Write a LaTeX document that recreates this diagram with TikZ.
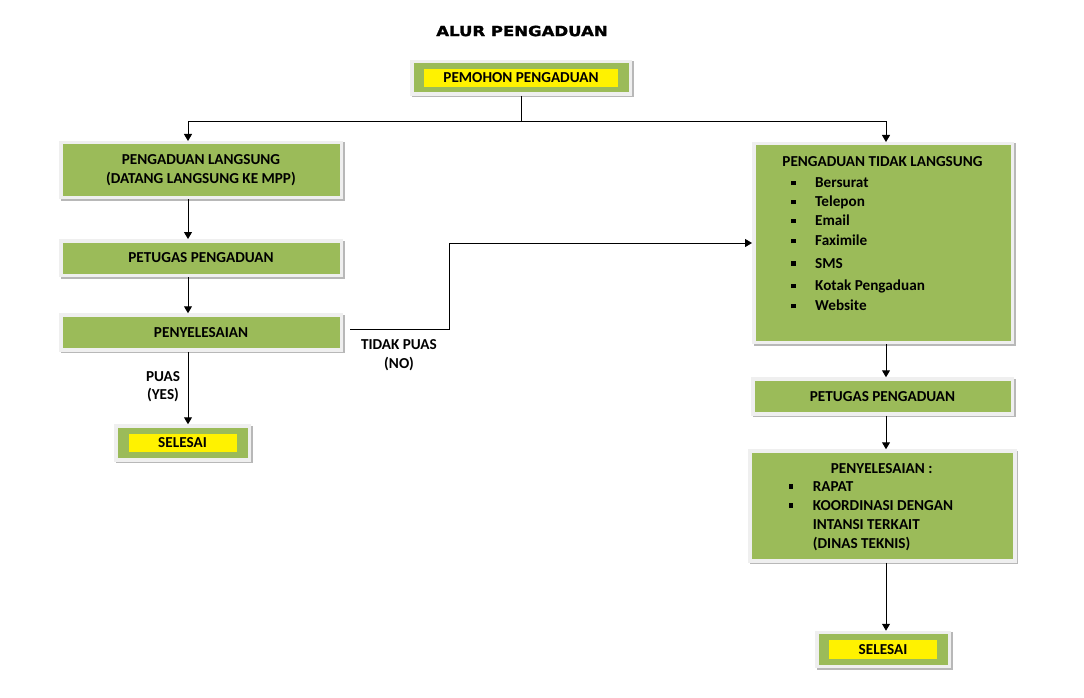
\documentclass[tikz,border=0pt]{standalone}
\usepackage{fontspec}
\setmainfont{Carlito}
\newfontfamily\titlefamily[FakeBold=1.6]{DejaVu Sans Bold}
\usepackage{graphicx}
\usepackage{tikz}
\usetikzlibrary{calc}
\usetikzlibrary{arrows.meta}
\usetikzlibrary{shadows}
\usetikzlibrary{positioning}
\definecolor{boxgreen}{HTML}{9BBB59}
\definecolor{boxframe}{HTML}{EFEFEF}
\definecolor{boxshade}{HTML}{A6A6A6}
\newcommand\myfont{\bfseries\fontsize{15.2}{18.5}\selectfont}
\newcommand\mybullet{\llap{\rule[2.5pt]{4.5pt}{4.5pt}\hspace{19.5pt}}}
\tikzset{%
  mybox/.style={rectangle,fill=boxgreen,draw=boxframe,line width=3.5pt,inner sep=0pt,
    align=center,font=\myfont,
    drop shadow={shadow xshift=1.5pt,shadow yshift=-1.5pt,draw=boxshade,fill=boxshade,
      line width=3.5pt,opacity=.8}},
  myyellow/.style={rectangle,fill=yellow,inner sep=0pt,font=\myfont},
  mytext/.style={inner sep=0pt,font=\myfont,align=center},
  myarrow/.style={line width=1pt,-{Triangle[length=7pt,width=8pt]}}
}

\begin{document}
\begin{tikzpicture}[x=1pt,y=-1pt]
    \useasboundingbox (0,0) rectangle (1084,698);
    \node[inner sep=0pt] (title) at (522,31)
        {\titlefamily\fontsize{14}{16}\selectfont\scalebox{1.18}[1]{ALUR PENGADUAN}};
    % top
    \node[mybox,minimum width=218.5pt,minimum height=32.5pt] (pemohon) at (521,78) {};
    \node[myyellow,minimum width=194pt,minimum height=18pt] (pemohon-txt) at (pemohon.center) {PEMOHON PENGADUAN};
    % left column
    \node[mybox,minimum width=280.5pt,minimum height=54.5pt] (langsung) at (201,170)
        {PENGADUAN LANGSUNG\\(DATANG LANGSUNG KE MPP)};
    \node[mybox,minimum width=280.5pt,minimum height=34.5pt] (petugasL) at (201,258) {PETUGAS PENGADUAN};
    \node[mybox,minimum width=280.5pt,minimum height=35pt] (penyL) at (201,332.5) {PENYELESAIAN};
    \node[mybox,minimum width=133.5pt,minimum height=34pt] (selesaiL) at (182.5,443) {};
    \node[myyellow,minimum width=108pt,minimum height=18.3pt] (selesaiL-txt) at (selesaiL.center) {SELESAI};
    \node[mytext] (puas) at (163,386.5) {PUAS\\(YES)};
    \node[mytext] (tidakpuas) at (399,355) {TIDAK PUAS\\(NO)};
    % right column
    \node[mybox,minimum width=258.5pt,minimum height=198.5pt] (tidak) at (883,243) {};
    \node[mytext] (tidak-title) at (882.5,161.7) {PENGADUAN TIDAK LANGSUNG};
    \foreach \n/\txt/\yy in {1/Bersurat/182.7,2/Telepon/201.7,3/Email/220.7,4/Faximile/241,
                             5/SMS/263.3,6/Kotak Pengaduan/285.7,7/Website/306}
        \node[mytext,anchor=base west] (tl-\n) at (815,\yy+4.8) {\mybullet\txt};
    \node[mybox,minimum width=259.5pt,minimum height=35pt] (petugasR) at (882.5,396.5) {PETUGAS PENGADUAN};
    \node[mybox,minimum width=265pt,minimum height=110pt] (penyR) at (882.5,506) {};
    \node[mytext] (penyR-title) at (881.7,469) {PENYELESAIAN :};
    \node[mytext,anchor=base west] (ps-1) at (812.7,491.4) {\mybullet RAPAT};
    \node[mytext,anchor=base west] (ps-2) at (812.7,510.4) {\mybullet KOORDINASI DENGAN};
    \node[mytext,anchor=base west] (ps-3) at (812.7,529.4) {INTANSI TERKAIT};
    \node[mytext,anchor=base west] (ps-4) at (812.7,548.7) {(DINAS TEKNIS)};
    \node[mybox,minimum width=132.5pt,minimum height=34pt] (selesaiR) at (883,649.5) {};
    \node[myyellow,minimum width=108pt,minimum height=19pt] (selesaiR-txt) at (selesaiR.center) {SELESAI};
    % connectors
    \coordinate (split) at (pemohon.south |- 0,122);
    \coordinate (lcol) at (188,0);
    \coordinate (rcol) at (886,0);
    \coordinate (nobend) at (449,0);
    \draw[line width=1pt] (pemohon.south) -- (split);
    \draw[myarrow] (split) -| (lcol |- langsung.north);
    \draw[myarrow] (split) -| (rcol |- tidak.north);
    \draw[myarrow] (lcol |- langsung.south) -- (lcol |- petugasL.north);
    \draw[myarrow] (lcol |- petugasL.south) -- (lcol |- penyL.north);
    \draw[myarrow] (lcol |- penyL.south) -- (lcol |- selesaiL.north);
    \draw[myarrow] ($(penyL.east)+(7,-3)$) -| (nobend |- tidak.west) -- (tidak.west);
    \draw[myarrow] (rcol |- tidak.south) -- (rcol |- petugasR.north);
    \draw[myarrow] (rcol |- petugasR.south) -- (rcol |- penyR.north);
    \draw[myarrow] (rcol |- penyR.south) -- (rcol |- selesaiR.north);
\end{tikzpicture}
\end{document}
